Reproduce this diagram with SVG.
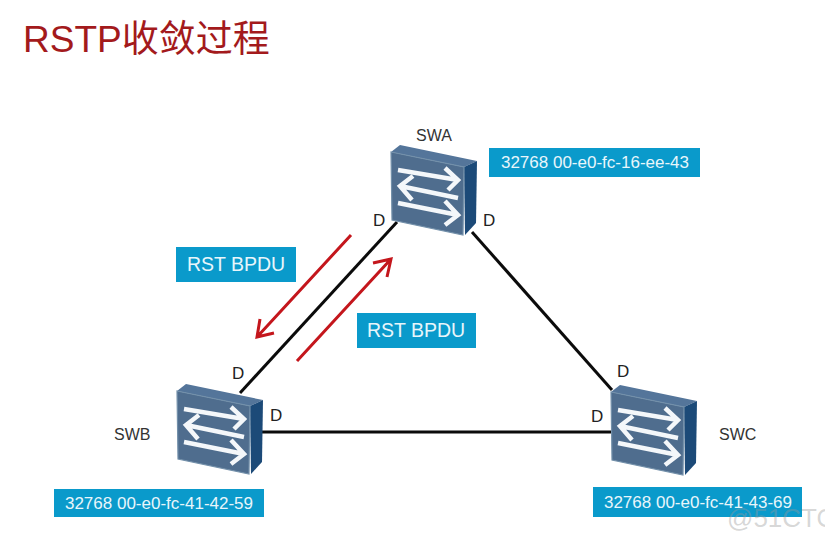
<svg xmlns="http://www.w3.org/2000/svg" width="825" height="536" viewBox="0 0 825 536">
<style>
text{font-family:"Liberation Sans","Noto Sans CJK SC",sans-serif}
.title{font-size:37px;fill:#a31a1c}
.name{font-size:16px;fill:#333}
.port{font-size:17px;fill:#222}
.box{fill:#0a9acb}
.boxt{font-size:17px;fill:#e8f6fb;text-anchor:middle}
.bpdu{font-size:19.5px;fill:#e8f6fb;text-anchor:middle}
.link{stroke:#0b0b0b;stroke-width:3;fill:none}
.red{stroke:#c4161c;stroke-width:3;fill:none}
.arr{fill:none;stroke:#f4f7fa;stroke-width:4.5}
</style>
<defs>
<g id="sw">
<polygon points="0,0 9,-7 86,9 73,15" fill="#54759a"/>
<polygon points="73,15 86,9 85,71 74,83" fill="#1c4a78"/>
<polygon points="0,0 73,15 72,83 1,68" fill="#4f6d8e"/>
<polygon points="0,0 73,15 72,83 1,68" fill="none" stroke="#7390aa" stroke-width="1.2"/>
<path class="arr" d="M7,18 L67,28 M54,16 L67,28 L57,38"/>
<path class="arr" d="M9,34 L67,46 M22,24 L9,34 L21,48"/>
<path class="arr" d="M7,51 L67,63 M54,49 L67,63 L54,73"/>
</g>
</defs>
<rect width="825" height="536" fill="#fff"/>
<text class="title" x="23" y="52">RSTP收敛过程</text>
<g id="connectors">
<path class="link" d="M397,222 L240,393"/>
<path class="link" d="M472,232 L612,390"/>
<path class="link" d="M262,432 L611,432"/>
<path class="red" d="M351,235 L257,337 M260,319 L257,337 L274,333"/>
<path class="red" d="M297,361 L391,259 M373,263 L391,259 L387,277"/>
</g>
<g id="SWA">
<use href="#sw" transform="translate(391,152)"/>
<text class="name" x="416" y="141">SWA</text>
<text class="port" x="373" y="226">D</text>
<text class="port" x="483" y="226">D</text>
<rect class="box" x="489" y="148" width="211" height="29"/>
<text class="boxt" x="595" y="168">32768 00-e0-fc-16-ee-43</text>
</g>
<g id="SWB">
<use href="#sw" transform="translate(177,391)"/>
<text class="name" x="114" y="440">SWB</text>
<text class="port" x="232" y="379">D</text>
<text class="port" x="270" y="421">D</text>
<rect class="box" x="54" y="489" width="210" height="28"/>
<text class="boxt" x="159" y="509">32768 00-e0-fc-41-42-59</text>
</g>
<g id="SWC">
<use href="#sw" transform="translate(611,392)"/>
<text class="name" x="719" y="440">SWC</text>
<text class="port" x="617" y="377">D</text>
<text class="port" x="591" y="422">D</text>
<rect class="box" x="593" y="487" width="209" height="30"/>
<text class="boxt" x="698" y="508">32768 00-e0-fc-41-43-69</text>
</g>
<g id="bpdu1">
<rect class="box" x="176" y="247" width="120" height="35"/>
<text class="bpdu" x="236" y="271">RST BPDU</text>
</g>
<g id="bpdu2">
<rect class="box" x="357" y="313" width="119" height="35"/>
<text class="bpdu" x="416" y="337">RST BPDU</text>
</g>
<text x="727" y="527" font-size="26" fill="#999" fill-opacity="0.4">@51CTO</text>
</svg>
